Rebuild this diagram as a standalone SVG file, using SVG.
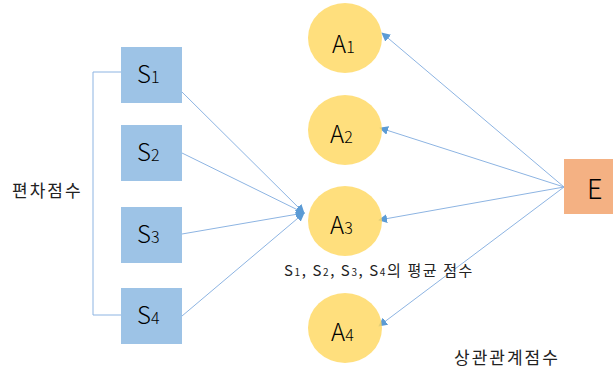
<svg xmlns="http://www.w3.org/2000/svg" width="613" height="372" viewBox="0 0 613 372">
<style>
.sbox{fill:#9DC3E6}
.circ{fill:#FFD966;opacity:0.85}
.ebox{fill:#F4B183}
.lbl{font-family:"Noto Sans CJK KR","Noto Sans",sans-serif;fill:#000;font-weight:300}
.big{font-size:24px}
.sub{font-size:16px}
.kr{font-family:"Noto Sans CJK KR",sans-serif;fill:#222}
.ln{stroke:#8DB4E2;stroke-width:1;fill:none}
.ar{stroke:#8DB4E2;stroke-width:1;fill:none;marker-end:url(#ah)}
</style>
<defs>
<marker id="ah" viewBox="0 0 10 10" refX="9" refY="5" markerWidth="9" markerHeight="9" markerUnits="userSpaceOnUse" orient="auto">
<path d="M0,0 L10,5 L0,10 z" fill="#5B9BD5"/>
</marker>
</defs>
<g id="connectors">
<polyline class="ln" points="121,72 93,72 93,315 121,315"/>
<line class="ar" x1="182" y1="92" x2="304" y2="213"/>
<line class="ar" x1="182" y1="153" x2="304" y2="213"/>
<line class="ar" x1="182" y1="234" x2="304" y2="213"/>
<line class="ar" x1="182" y1="316" x2="304" y2="213"/>
<line class="ar" x1="564" y1="187" x2="382" y2="33"/>
<line class="ar" x1="564" y1="187" x2="380" y2="128"/>
<line class="ar" x1="564" y1="187" x2="379" y2="220"/>
<line class="ar" x1="564" y1="187" x2="379" y2="326"/>
</g>
<g id="S1"><rect class="sbox" x="121" y="47" width="61" height="56"/><text class="lbl" x="137" y="83"><tspan class="big">S</tspan><tspan class="sub">1</tspan></text></g>
<g id="S2"><rect class="sbox" x="121" y="125" width="61" height="56"/><text class="lbl" x="137" y="161"><tspan class="big">S</tspan><tspan class="sub">2</tspan></text></g>
<g id="S3"><rect class="sbox" x="121" y="207" width="61" height="56"/><text class="lbl" x="137" y="243"><tspan class="big">S</tspan><tspan class="sub">3</tspan></text></g>
<g id="S4"><rect class="sbox" x="121" y="288" width="61" height="56"/><text class="lbl" x="137" y="324"><tspan class="big">S</tspan><tspan class="sub">4</tspan></text></g>
<g id="A1"><ellipse class="circ" cx="345" cy="38" rx="37" ry="35"/><text class="lbl" x="332" y="53"><tspan class="big">A</tspan><tspan class="sub">1</tspan></text></g>
<g id="A2"><ellipse class="circ" cx="345" cy="130" rx="37" ry="35"/><text class="lbl" x="330" y="143"><tspan class="big">A</tspan><tspan class="sub">2</tspan></text></g>
<g id="A3"><ellipse class="circ" cx="345" cy="221" rx="37" ry="35"/><text class="lbl" x="330" y="234"><tspan class="big">A</tspan><tspan class="sub">3</tspan></text></g>
<g id="A4"><ellipse class="circ" cx="345" cy="328" rx="37" ry="35"/><text class="lbl" x="331" y="341"><tspan class="big">A</tspan><tspan class="sub">4</tspan></text></g>
<g id="E"><rect class="ebox" x="564" y="159" width="49" height="55"/><text class="lbl" x="587" y="199" style="font-size:27px">E</text></g>
<g id="labels">
<text class="kr" x="12" y="197" style="font-size:17px;letter-spacing:2px">편차점수</text>
<text class="kr" x="284" y="276" style="font-size:15px;letter-spacing:1.6px">S<tspan style="font-size:10px">1</tspan>, S<tspan style="font-size:10px">2</tspan>, S<tspan style="font-size:10px">3</tspan>, S<tspan style="font-size:10px">4</tspan>의 평균 점수</text>
<text class="kr" x="454" y="364" style="font-size:17px;letter-spacing:2px">상관관계점수</text>
</g>
</svg>
